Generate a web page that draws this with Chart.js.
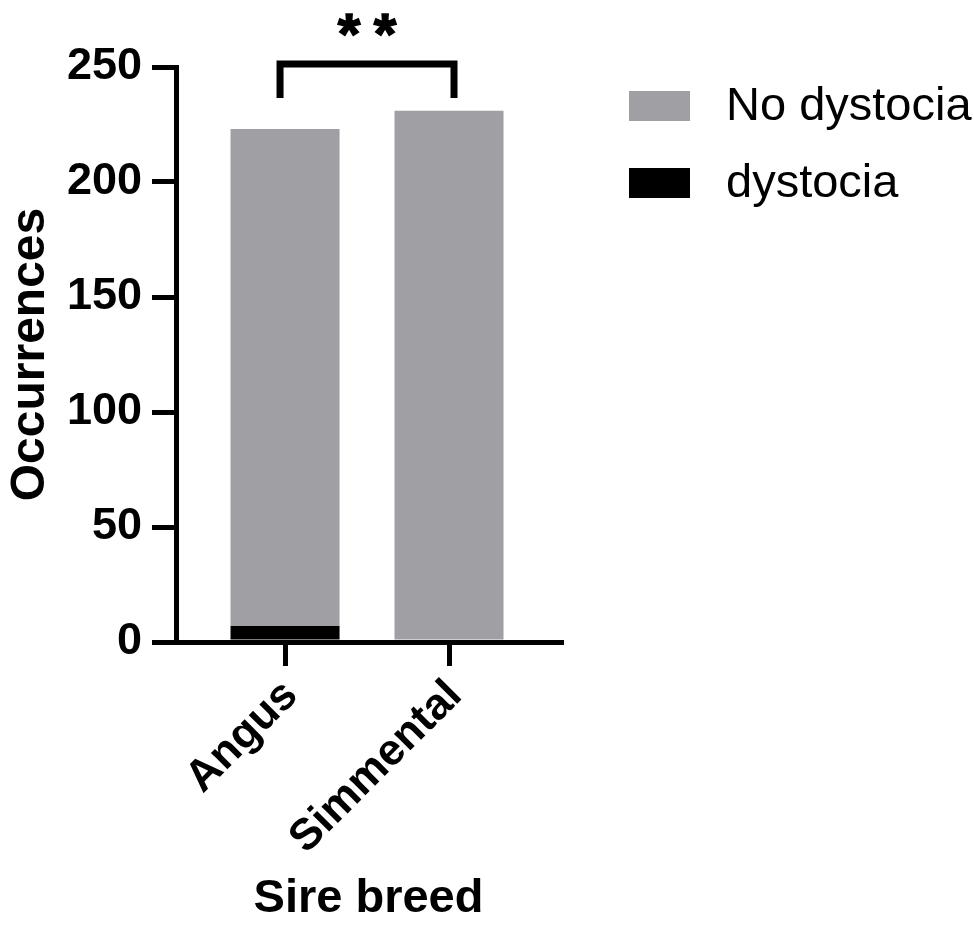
<!DOCTYPE html>
<html>
<head>
<meta charset="utf-8">
<script src="https://cdn.jsdelivr.net/npm/chart.js@4.4.0/dist/chart.umd.min.js"></script>
<style>
  html, body { margin: 0; padding: 0; background: #ffffff; }
  #wrap { width: 974px; height: 929px; }
</style>
</head>
<body>
<div id="wrap"><canvas id="c" width="974" height="929"></canvas></div>
<script>
// Calving outcomes by sire breed
const categories = ['Angus', 'Simmental'];
const noDystocia = [216, 231];
const dystocia = [7, 0];
const yTicks = [0, 50, 100, 150, 200, 250];
const seriesNames = ['No dystocia', 'dystocia'];
const significance = '**';

const GREY = '#a09fa4';
const BLACK = '#000000';
const FAMILY = '"Liberation Sans", Arial, sans-serif';

// x positions of the categories on a linear index axis (1, 2, ...)
const toPoints = vals => vals.map((v, i) => ({ x: i + 1, y: v }));

// Custom legend on the right, drawn top to bottom
const sideLegend = {
  id: 'sideLegend',
  afterDraw(chart) {
    const ctx = chart.ctx;
    const order = [1, 0]; // "No dystocia" listed first
    ctx.save();
    ctx.font = '47px ' + FAMILY;
    ctx.textBaseline = 'middle';
    ctx.textAlign = 'left';
    order.forEach((di, row) => {
      const ds = chart.data.datasets[di];
      const top = 91 + row * 77;
      ctx.fillStyle = ds.backgroundColor;
      ctx.fillRect(629, top, 61, 30);
      ctx.fillStyle = '#000';
      ctx.fillText(ds.label, 726, top + 16);
    });
    ctx.restore();
  }
};

// Significance bracket between the two bars
const sigBracket = {
  id: 'sigBracket',
  afterDatasetsDraw(chart, args, opts) {
    const xs = chart.scales.x, ys = chart.scales.y;
    const ctx = chart.ctx;
    const xl = xs.getPixelForValue(1) - 5;
    const xr = xs.getPixelForValue(2) + 5;
    const yt = ys.getPixelForValue(opts.top);
    const yb = ys.getPixelForValue(opts.legs);
    ctx.save();
    ctx.strokeStyle = '#000';
    ctx.lineWidth = 7;
    ctx.lineCap = 'butt';
    ctx.lineJoin = 'miter';
    ctx.beginPath();
    ctx.moveTo(xl, yb);
    ctx.lineTo(xl, yt);
    ctx.lineTo(xr, yt);
    ctx.lineTo(xr, yb);
    ctx.stroke();
    ctx.fillStyle = '#000';
    ctx.strokeStyle = '#000';
    ctx.lineWidth = 1.5;
    ctx.font = 'bold 58px ' + FAMILY;
    ctx.textAlign = 'center';
    ctx.textBaseline = 'alphabetic';
    const cx = (xl + xr) / 2;
    const chars = significance.split('');
    chars.forEach((ch, i) => {
      const off = (i - (chars.length - 1) / 2) * 36;
      ctx.fillText(ch, cx + off, 54);
      ctx.strokeText(ch, cx + off, 54);
    });
    ctx.restore();
  }
};

new Chart(document.getElementById('c'), {
  type: 'bar',
  data: {
    datasets: [
      { label: seriesNames[1], data: toPoints(dystocia), backgroundColor: BLACK, borderWidth: 0 },
      { label: seriesNames[0], data: toPoints(noDystocia), backgroundColor: GREY, borderWidth: 0 }
    ]
  },
  plugins: [sideLegend, sigBracket],
  options: {
    responsive: false,
    devicePixelRatio: 1,
    animation: false,
    layout: { padding: { top: 67, right: 413, left: 0, bottom: 0 } },
    datasets: { bar: { categoryPercentage: 1, barPercentage: 0.665 } },
    plugins: {
      legend: { display: false },
      tooltip: { enabled: false },
      sigBracket: { top: 251.3, legs: 236.5 }
    },
    scales: {
      x: {
        type: 'linear',
        stacked: true,
        offset: false,
        min: 0.335,
        max: 2.683,
        afterBuildTicks(scale) { scale.ticks = categories.map((c, i) => ({ value: i + 1 })); },
        afterFit(scale) { scale.height = 287; },
        ticks: {
          autoSkip: false,
          minRotation: 45,
          maxRotation: 45,
          padding: 4,
          labelOffset: 6,
          color: '#000',
          font: { family: FAMILY, size: 44, weight: 'bold' },
          callback: v => categories[Math.round(v) - 1]
        },
        grid: { display: true, offset: false, drawOnChartArea: false, drawTicks: true, tickLength: 24, tickWidth: 5, tickColor: '#000', lineWidth: 5, color: '#000' },
        border: { display: true, width: 5, color: '#000' },
        title: {
          display: true,
          text: 'Sire breed',
          color: '#000',
          padding: { top: 0, bottom: 2 },
          font: { family: FAMILY, size: 47, weight: 'bold' }
        }
      },
      y: {
        type: 'linear',
        stacked: true,
        min: 0,
        max: 250,
        afterBuildTicks(scale) { scale.ticks = yTicks.map(v => ({ value: v })); },
        afterFit(scale) { scale.width = 176; },
        ticks: {
          autoSkip: false,
          padding: 10,
          color: '#000',
          font: { family: FAMILY, size: 45, weight: 'bold' }
        },
        grid: { display: true, drawOnChartArea: false, drawTicks: true, tickLength: 24, tickWidth: 5, tickColor: '#000', lineWidth: 5, color: '#000' },
        border: { display: true, width: 5, color: '#000' },
        title: {
          display: true,
          text: 'Occurrences',
          color: '#000',
          padding: { top: 2, bottom: 0 },
          font: { family: FAMILY, size: 48, weight: 'bold' }
        }
      }
    }
  }
});
</script>
</body>
</html>
